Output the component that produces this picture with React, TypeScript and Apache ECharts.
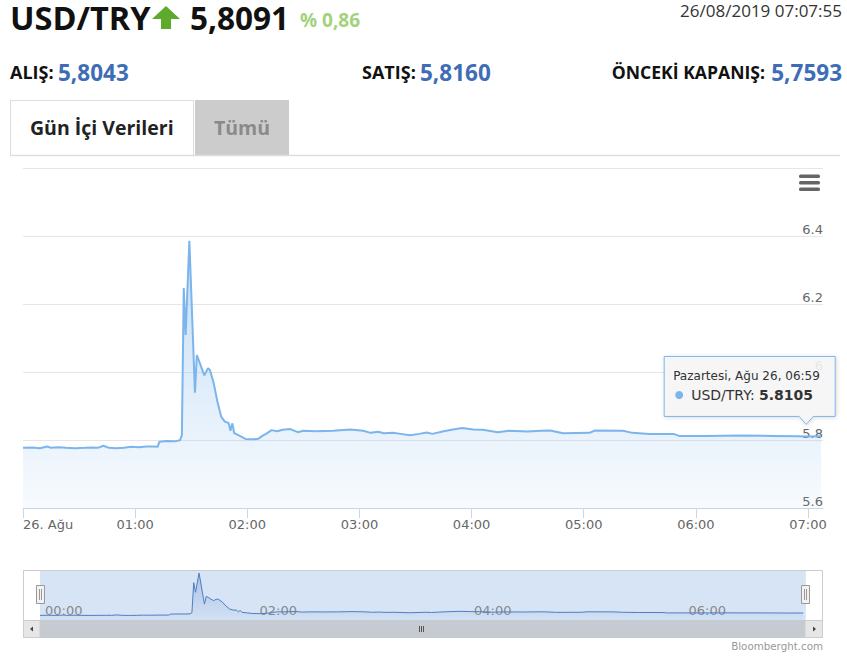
import React, { useEffect, useRef } from "react";
import * as echarts from "echarts";

// ---- data ----
const pairName = "USD/TRY";
const lastPrice = "5,8091";
const changeText = "% 0,86";
const stampText = "26/08/2019 07:07:55";
const bidLabel = "ALIŞ:";
const bidValue = "5,8043";
const askLabel = "SATIŞ:";
const askValue = "5,8160";
const prevLabel = "ÖNCEKİ KAPANIŞ:";
const prevValue = "5,7593";
const tabLabels = ["Gün İçi Verileri", "Tümü"];
const creditText = "Bloomberght.com";

const times = [
  "00:00", "00:05", "00:09", "00:13", "00:15", "00:19", "00:23", "00:28", "00:33", "00:37",
  "00:40", "00:43", "00:46", "00:50", "00:54", "00:58", "01:02", "01:06", "01:10", "01:12",
  "01:13", "01:17", "01:21", "01:24", "01:25", "01:26", "01:27", "01:29", "01:32", "01:33",
  "01:35", "01:37", "01:39", "01:40", "01:42", "01:44", "01:46", "01:48", "01:50", "01:51",
  "01:52", "01:53", "01:56", "01:59", "02:03", "02:06", "02:08", "02:10", "02:13", "02:16",
  "02:19", "02:23", "02:27", "02:30", "02:37", "02:46", "02:55", "03:02", "03:06", "03:10",
  "03:13", "03:18", "03:22", "03:27", "03:32", "03:36", "03:39", "03:45", "03:50", "03:55",
  "04:01", "04:06", "04:14", "04:20", "04:30", "04:37", "04:42", "04:49", "05:03", "05:06",
  "05:21", "05:26", "05:35", "05:48", "05:51", "06:06", "06:23", "06:41", "06:55", "06:59",
  "07:07",
];
const values = [
  5.777, 5.778, 5.776, 5.781, 5.777, 5.779, 5.777, 5.776, 5.777, 5.778,
  5.777, 5.783, 5.777, 5.776, 5.777, 5.78, 5.779, 5.781, 5.781, 5.78,
  5.795, 5.797, 5.796, 5.799, 5.815, 6.247, 6.109, 6.386, 5.939, 6.05,
  6.02, 5.99, 6.011, 6.006, 5.968, 5.913, 5.869, 5.854, 5.85, 5.827,
  5.849, 5.82, 5.812, 5.803, 5.802, 5.804, 5.812, 5.818, 5.829, 5.826,
  5.83, 5.832, 5.823, 5.827, 5.826, 5.827, 5.831, 5.827, 5.821, 5.824,
  5.82, 5.821, 5.818, 5.814, 5.818, 5.822, 5.818, 5.826, 5.831, 5.835,
  5.831, 5.83, 5.823, 5.827, 5.825, 5.827, 5.828, 5.82, 5.821, 5.828,
  5.827, 5.821, 5.818, 5.818, 5.812, 5.812, 5.813, 5.812, 5.811, 5.8105,
  5.811,
];

const xTickLabels = ["26. Ağu", "01:00", "02:00", "03:00", "04:00", "05:00", "06:00", "07:00"];
const navTickLabels = ["00:00", "02:00", "04:00", "06:00"];
const xEnd = "07:08";
const yMin = 5.6;
const yMax = 6.6;
const yStep = 0.2;

const tipTime = "06:59";
const tipValue = 5.8105;
const tipHeader = "Pazartesi, Ağu 26, 06:59";
const tipSeries = "USD/TRY";

const toMin = (t: string) => {
  const [h, m] = t.split(":").map(Number);
  return h * 60 + m;
};

const LINE = "#7cb5ec";
const AXIS_FONT = "DejaVu Sans";
const HEAD_FONT = "Open Sans";

export default function App() {
  const ref = useRef<HTMLDivElement>(null);

  useEffect(() => {
    const el = ref.current;
    if (!el) return;
    const chart = echarts.init(el, null, { renderer: "svg" });
    const data = times.map((t, i) => [toMin(t), values[i]]);
    const maxX = toMin(xEnd);
    const mainTicks = xTickLabels.map((_, i) => i * 60);
    const navTicks = navTickLabels.map((_, i) => i * 120);

    chart.setOption({
      animation: false,
      grid: [
        { left: 23, top: 168, width: 800, height: 340 },
        { left: 40, top: 570, width: 765, height: 50 },
      ],
      xAxis: [
        {
          type: "value",
          gridIndex: 0,
          min: 0,
          max: maxX,
          interval: 60,
          axisLine: { show: true, lineStyle: { color: "#ccd6eb", width: 1 } },
          axisTick: { show: true, length: 10, lineStyle: { color: "#ccd6eb" }, customValues: mainTicks },
          splitLine: { show: false },
          axisLabel: {
            color: "#666",
            fontSize: 13,
            fontFamily: AXIS_FONT,
            margin: 10,
            customValues: mainTicks,
            alignMinLabel: "left",
            formatter: (v: number) => xTickLabels[Math.round(v / 60)] ?? "",
          },
        },
        {
          type: "value",
          gridIndex: 1,
          min: 0,
          max: maxX,
          interval: 120,
          axisLine: { show: false },
          axisTick: { show: false },
          splitLine: { show: true, lineStyle: { color: "#e3e8ef", width: 1 } },
          axisLabel: {
            inside: true,
            margin: 3,
            color: "#888",
            fontSize: 13,
            fontFamily: AXIS_FONT,
            align: "left",
            padding: [0, 0, 0, 5],
            customValues: navTicks,
            formatter: (v: number) => navTickLabels[Math.round(v / 120)] ?? "",
          },
        },
      ],
      yAxis: [
        {
          type: "value",
          gridIndex: 0,
          position: "right",
          min: yMin,
          max: yMax,
          interval: yStep,
          axisLine: { show: false },
          axisTick: { show: false },
          splitLine: { show: true, lineStyle: { color: "#e6e6e6", width: 1 } },
          axisLabel: {
            inside: true,
            margin: 0,
            showMaxLabel: false,
            verticalAlign: "bottom",
            padding: [0, 0, 0, 0],
            color: "#666",
            fontSize: 13,
            fontFamily: AXIS_FONT,
            formatter: (v: number) => String(parseFloat(v.toFixed(1))),
          },
        },
        {
          type: "value",
          gridIndex: 1,
          min: 5.71,
          max: 6.43,
          show: false,
          splitLine: { show: false },
        },
      ],
      series: [
        {
          type: "line",
          xAxisIndex: 0,
          yAxisIndex: 0,
          data,
          showSymbol: false,
          symbol: "none",
          z: 3,
          lineStyle: { color: LINE, width: 2 },
          areaStyle: {
            origin: "start",
            color: new echarts.graphic.LinearGradient(0, 0, 0, 1, [
              { offset: 0, color: "rgba(124,181,236,0.65)" },
              { offset: 1, color: "rgba(124,181,236,0.08)" },
            ]),
          },
        },
        {
          type: "line",
          xAxisIndex: 1,
          yAxisIndex: 1,
          data,
          showSymbol: false,
          symbol: "none",
          z: 3,
          lineStyle: { color: "#4d7ec2", width: 1 },
          areaStyle: {
            origin: "start",
            color: new echarts.graphic.LinearGradient(0, 0, 0, 1, [
              { offset: 0, color: "rgba(77,126,194,0.45)" },
              { offset: 1, color: "rgba(77,126,194,0.05)" },
            ]),
          },
        },
      ],
    });

    const [px, py] = chart.convertToPixel({ gridIndex: 0 }, [toMin(tipTime), tipValue]) as number[];
    const bLeft = px - 142;
    const bRight = px + 29;
    const bTop = py - 80;
    const bBottom = py - 20;
    const tipY = py - 12;

    const headText = (text: string, x: number, y: number, size: number, fill: string, weight = "bold", align = "left") => ({
      type: "text",
      x,
      y,
      z: 10,
      style: { text, fontSize: size, fontWeight: weight, fontFamily: HEAD_FONT, fill, align, verticalAlign: "middle" },
    });

    const graphics: any[] = [
      // header
      headText(pairName, 10, 17, 32.5, "#111"),
      {
        type: "polygon",
        z: 10,
        shape: { points: [[166, 6], [180, 19], [171, 19], [171, 29], [161, 29], [161, 19], [152, 19]] },
        style: { fill: "#5daa2c" },
      },
      headText(lastPrice, 190, 17, 31.5, "#111"),
      headText(changeText, 300, 20, 19, "#a2d27c"),
      headText(stampText, 842, 10, 17, "#333", "normal", "right"),
      headText(bidLabel, 10, 72, 18, "#111"),
      headText(bidValue, 58, 72, 22.5, "#3e6db5"),
      headText(askLabel, 362, 72, 18, "#111"),
      headText(askValue, 420, 72, 22.5, "#3e6db5"),
      headText(prevLabel, 765, 72, 17.6, "#111", "bold", "right"),
      headText(prevValue, 842, 72, 22.5, "#3e6db5", "bold", "right"),
      // tabs
      { type: "rect", z: 5, shape: { x: 10.5, y: 100.5, width: 183, height: 55 }, style: { fill: "#fff", stroke: "#dddddd", lineWidth: 1 } },
      { type: "rect", z: 5, shape: { x: 195, y: 100, width: 94, height: 55 }, style: { fill: "#cccccc" } },
      { type: "line", z: 6, shape: { x1: 10, y1: 155.5, x2: 840, y2: 155.5 }, style: { stroke: "#dddddd", lineWidth: 1.5 } },
      headText(tabLabels[0], 30, 127.5, 19.5, "#222"),
      headText(tabLabels[1], 214, 127.5, 19.5, "#8a8a8a"),
      // menu icon
      { type: "rect", z: 10, shape: { x: 799, y: 174.5, width: 21, height: 3.5, r: 1.5 }, style: { fill: "#666" } },
      { type: "rect", z: 10, shape: { x: 799, y: 181, width: 21, height: 3.5, r: 1.5 }, style: { fill: "#666" } },
      { type: "rect", z: 10, shape: { x: 799, y: 187.5, width: 21, height: 3.5, r: 1.5 }, style: { fill: "#666" } },
      // navigator mask & outline
      { type: "rect", z: 0, shape: { x: 40, y: 570, width: 765, height: 50 }, style: { fill: "#d7e4f5" } },
      { type: "rect", z: 4, shape: { x: 23.5, y: 570.5, width: 799, height: 50 }, style: { fill: "none", stroke: "#cccccc", lineWidth: 1 } },
      // scrollbar
      { type: "rect", z: 4, shape: { x: 40, y: 620, width: 765, height: 18 }, style: { fill: "#c6cbd2" } },
      { type: "rect", z: 5, shape: { x: 23.5, y: 620.5, width: 16.5, height: 17 }, style: { fill: "#e6e6e6", stroke: "#cccccc", lineWidth: 1 } },
      { type: "rect", z: 5, shape: { x: 805, y: 620.5, width: 17.5, height: 17 }, style: { fill: "#e6e6e6", stroke: "#cccccc", lineWidth: 1 } },
      { type: "polygon", z: 6, shape: { points: [[30, 629], [33, 626.5], [33, 631.5]] }, style: { fill: "#444" } },
      { type: "polygon", z: 6, shape: { points: [[816, 629], [813, 626.5], [813, 631.5]] }, style: { fill: "#444" } },
      { type: "line", z: 6, shape: { x1: 419.5, y1: 626, x2: 419.5, y2: 632 }, style: { stroke: "#555", lineWidth: 1 } },
      { type: "line", z: 6, shape: { x1: 421.5, y1: 626, x2: 421.5, y2: 632 }, style: { stroke: "#555", lineWidth: 1 } },
      { type: "line", z: 6, shape: { x1: 423.5, y1: 626, x2: 423.5, y2: 632 }, style: { stroke: "#555", lineWidth: 1 } },
      // handles
      { type: "rect", z: 7, shape: { x: 36.5, y: 585.5, width: 8, height: 18 }, style: { fill: "#f2f2f2", stroke: "#999", lineWidth: 1 } },
      { type: "line", z: 8, shape: { x1: 39.5, y1: 589, x2: 39.5, y2: 600 }, style: { stroke: "#999", lineWidth: 1 } },
      { type: "line", z: 8, shape: { x1: 41.5, y1: 589, x2: 41.5, y2: 600 }, style: { stroke: "#999", lineWidth: 1 } },
      { type: "rect", z: 7, shape: { x: 801.5, y: 585.5, width: 8, height: 18 }, style: { fill: "#f2f2f2", stroke: "#999", lineWidth: 1 } },
      { type: "line", z: 8, shape: { x1: 804.5, y1: 589, x2: 804.5, y2: 600 }, style: { stroke: "#999", lineWidth: 1 } },
      { type: "line", z: 8, shape: { x1: 806.5, y1: 589, x2: 806.5, y2: 600 }, style: { stroke: "#999", lineWidth: 1 } },
      // credits
      {
        type: "text",
        x: 823,
        y: 646,
        z: 10,
        style: { text: creditText, fontSize: 10.3, fontFamily: AXIS_FONT, fill: "#999", align: "right", verticalAlign: "middle" },
      },
      // tooltip
      {
        type: "polygon",
        z: 20,
        shape: {
          points: [
            [bLeft, bTop], [bRight, bTop], [bRight, bBottom], [px + 7, bBottom], [px, tipY],
            [px - 7, bBottom], [bLeft, bBottom],
          ],
        },
        style: {
          fill: "rgba(247,247,247,0.88)",
          stroke: LINE,
          lineWidth: 1,
          shadowBlur: 4,
          shadowColor: "rgba(0,0,0,0.15)",
          shadowOffsetX: 1,
          shadowOffsetY: 1,
        },
      },
      {
        type: "text",
        x: bLeft + 9,
        y: bTop + 20,
        z: 21,
        style: { text: tipHeader, fontSize: 12, fontFamily: AXIS_FONT, fill: "#333", align: "left", verticalAlign: "middle" },
      },
      { type: "circle", z: 21, shape: { cx: bLeft + 15, cy: bTop + 38.5, r: 4 }, style: { fill: LINE } },
      {
        type: "text",
        x: bLeft + 27,
        y: bTop + 38.5,
        z: 21,
        style: {
          text: `{a|${tipSeries}: }{b|${tipValue.toFixed(4)}}`,
          align: "left",
          verticalAlign: "middle",
          rich: {
            a: { fontSize: 14, fontFamily: AXIS_FONT, fill: "#333" },
            b: { fontSize: 14, fontFamily: AXIS_FONT, fill: "#333", fontWeight: "bold" },
          },
        },
      },
    ];

    chart.setOption({ graphic: graphics });
    return () => chart.dispose();
  }, []);

  return (
    <div
      ref={ref}
      style={{ position: "absolute", left: 0, top: 0, width: 847, height: 660, background: "#fff" }}
    />
  );
}
